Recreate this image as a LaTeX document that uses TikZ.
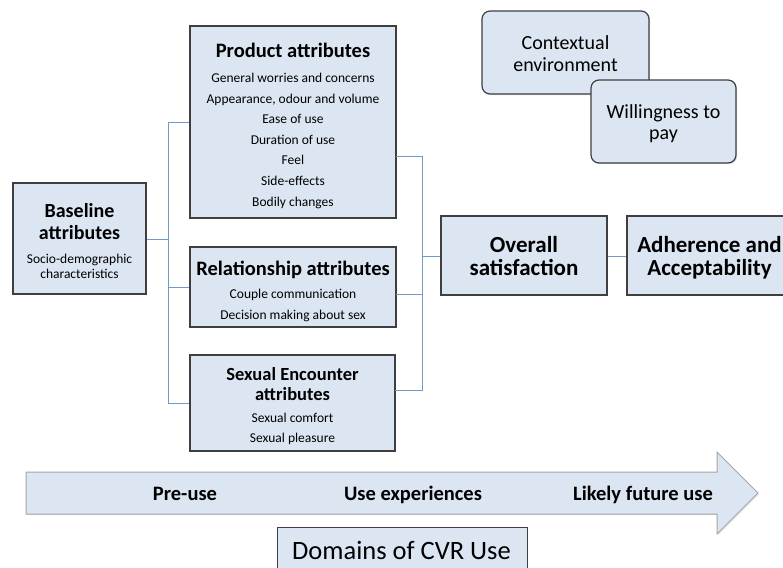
\documentclass[tikz,border=0pt]{standalone}
\usepackage{fontspec}
\setmainfont{Carlito}
\usetikzlibrary{shadows,calc}
\definecolor{boxfill}{HTML}{DCE6F2}
\definecolor{boxline}{HTML}{3F3F3F}
\definecolor{conn}{HTML}{7398CB}
\definecolor{arrline}{HTML}{A6A6A6}
\begin{document}
\begin{tikzpicture}[x=1pt,y=-1pt,
  box/.style={draw=boxline, fill=boxfill, line width=1.2pt, inner sep=0pt,
    drop shadow={opacity=0.25,shadow xshift=1.2pt,shadow yshift=-1.2pt}},
  rbox/.style={box, rounded corners=8pt},
  conline/.style={draw=conn, line width=1pt},
  txt/.style={anchor=base, inner sep=0pt},
  ttl/.style={txt, font=\fontsize{20.5}{24}\selectfont\bfseries},
  sttl/.style={txt, font=\fontsize{18.5}{22}\selectfont\bfseries},
  btl/.style={txt, font=\fontsize{20}{24}\selectfont\bfseries},
  bigt/.style={txt, font=\fontsize{23}{26}\selectfont\bfseries},
  sml/.style={txt, font=\fontsize{13.5}{16}\selectfont},
  reg/.style={txt, font=\fontsize{20}{24}\selectfont},
  lbl/.style={txt, font=\fontsize{20.5}{24}\selectfont\bfseries}]
\useasboundingbox (0,0) rectangle (783,567);
\clip (0,0) rectangle (783,567);

% arrow
\filldraw[fill=boxfill, draw=arrline, line width=1pt,
  drop shadow={opacity=0.2,shadow xshift=1.2pt,shadow yshift=-1.2pt}]
  (26,472) -- (717,472) -- (717,452) -- (758,493) -- (717,534) -- (717,514) -- (26,514) -- cycle;
\node[lbl] (pre) at (185,500.5) {Pre-use};
\node[lbl] (usex) at (413,500.5) {Use experiences};
\node[lbl] (fut) at (643,500.5) {Likely future use};

% boxes
\node[box, minimum width=133pt, minimum height=111pt] (base) at (79.5,238.5) {};
\node[box, minimum width=206pt, minimum height=192pt] (prod) at (293,122) {};
\node[box, minimum width=206pt, minimum height=80pt] (rel) at (293,287) {};
\node[box, minimum width=205pt, minimum height=96pt] (sex) at (292.5,403) {};
\node[box, minimum width=166pt, minimum height=79pt] (over) at (524,255.5) {};
\node[box, minimum width=168pt, minimum height=79pt] (adh) at (711,255.5) {};
\node[rbox, minimum width=167pt, minimum height=83pt] (ctx) at (565.5,52.5) {};
\node[rbox, minimum width=145pt, minimum height=83pt] (wil) at (663.5,121.5) {};
\node[box, line width=0.9pt, minimum width=250pt, minimum height=48pt] (dom) at (402,551) {};

% texts
\node[btl] (baseA) at (79.5,217.5) {Baseline};
\node[btl] (baseB) at (79.5,239.5) {attributes};
\node[sml] (baseC) at (79.5,263) {Socio-demographic};
\node[sml] (baseD) at (79.5,278) {characteristics};

\node[ttl] (prodT) at (293,57.5) {Product attributes};
\foreach \t [count=\i] in {General worries and concerns, {Appearance, odour and volume}, Ease of use, Duration of use, Feel, Side-effects, Bodily changes}
  \node[sml] (prod\i) at (293,{82.5+20.6*(\i-1)}) {\t};

\node[ttl] (relT) at (293,275) {Relationship attributes};
\node[sml] (rel1) at (293,298.5) {Couple communication};
\node[sml] (rel2) at (293,319) {Decision making about sex};

\node[sttl] (sexT) at (292.5,380) {Sexual Encounter};
\node[sttl] (sexU) at (292.5,400) {attributes};
\node[sml] (sex1) at (292.5,422) {Sexual comfort};
\node[sml] (sex2) at (292.5,442) {Sexual pleasure};

\node[bigt] (overA) at (524,252.5) {Overall};
\node[bigt] (overB) at (524,275.5) {satisfaction};
\node[bigt] (adhA) at (709.5,252.5) {Adherence and};
\node[bigt] (adhB) at (709.5,275.5) {Acceptability};

\node[reg] (ctxA) at (565.5,49.5) {Contextual};
\node[reg] (ctxB) at (565.5,71.5) {environment};
\node[reg] (wilA) at (663.5,118.5) {Willingness to};
\node[reg] (wilB) at (663.5,139.5) {pay};

\node[txt, font=\fontsize{26.5}{30}\selectfont] (domT) at (401.5,559) {Domains of CVR Use};

% left bracket
\coordinate (lj) at (168,239);
\draw[conline] (base.east |- lj) -- (lj);
\draw[conline] (lj |- prod.west) -- (lj |- sex.west);
\draw[conline] (lj |- prod.west) -- (prod.west);
\draw[conline] (lj |- rel.west) -- (rel.west);
\draw[conline] (lj |- sex.west) -- (sex.west);

% right bracket
\coordinate (rj) at (422,256);
\coordinate (pe) at (396,156);
\coordinate (re) at (396,294);
\coordinate (se) at (395,390);
\draw[conline] (pe) -- (rj |- pe) -- (rj |- se) -- (se);
\draw[conline] (re) -- (rj |- re);
\draw[conline] (rj) -- (over.west |- rj);
\draw[conline] (over.east |- rj) -- (adh.west |- rj);
\end{tikzpicture}
\end{document}
